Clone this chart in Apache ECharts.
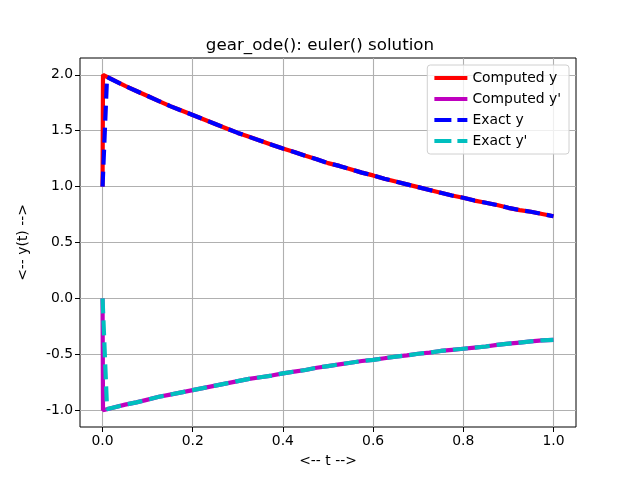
<!DOCTYPE html>
<html><head><meta charset="utf-8">
<script src="https://cdn.jsdelivr.net/npm/echarts@6/dist/echarts.min.js"></script>
<style>html,body{margin:0;padding:0;background:#fff}#c{width:640px;height:480px}</style>
</head><body><div id="c"></div>
<script>
// Exact solution samples
var tExact = [0, 0.01, 0.02, 0.05, 0.075, 0.1, 0.125, 0.15, 0.175, 0.2, 0.225, 0.25, 0.275, 0.3, 0.325, 0.35, 0.375, 0.4, 0.425, 0.45, 0.475, 0.5, 0.525, 0.55, 0.575, 0.6, 0.625, 0.65, 0.675, 0.7, 0.725, 0.75, 0.775, 0.8, 0.825, 0.85, 0.875, 0.9, 0.925, 0.95, 0.975, 1.0];
var yExact = [1.0, 1.98, 1.96, 1.90, 1.855, 1.81, 1.765, 1.72, 1.68, 1.64, 1.60, 1.56, 1.52, 1.48, 1.445, 1.41, 1.375, 1.34, 1.31, 1.275, 1.245, 1.21, 1.185, 1.155, 1.125, 1.10, 1.07, 1.045, 1.02, 0.995, 0.97, 0.945, 0.92, 0.90, 0.875, 0.855, 0.835, 0.81, 0.79, 0.775, 0.755, 0.735];
var ypExact = [0.0, -0.99, -0.98, -0.95, -0.93, -0.905, -0.88, -0.86, -0.84, -0.82, -0.80, -0.78, -0.76, -0.74, -0.72, -0.705, -0.69, -0.67, -0.655, -0.64, -0.62, -0.605, -0.59, -0.575, -0.56, -0.55, -0.535, -0.52, -0.51, -0.495, -0.485, -0.47, -0.46, -0.45, -0.44, -0.43, -0.415, -0.405, -0.395, -0.385, -0.375, -0.37];
// Computed (euler) samples
var tComp = [0, 0.001, 0.05, 0.075, 0.1, 0.125, 0.15, 0.175, 0.2, 0.225, 0.25, 0.275, 0.3, 0.325, 0.35, 0.375, 0.4, 0.425, 0.45, 0.475, 0.5, 0.525, 0.55, 0.575, 0.6, 0.625, 0.65, 0.675, 0.7, 0.725, 0.75, 0.775, 0.8, 0.825, 0.85, 0.875, 0.9, 0.925, 0.95, 0.975, 1.0];
var yComp = [1.0, 2.0, 1.90, 1.855, 1.81, 1.765, 1.72, 1.68, 1.64, 1.60, 1.56, 1.52, 1.48, 1.445, 1.41, 1.375, 1.34, 1.31, 1.275, 1.245, 1.21, 1.185, 1.155, 1.125, 1.10, 1.07, 1.045, 1.02, 0.995, 0.97, 0.945, 0.92, 0.90, 0.875, 0.855, 0.835, 0.81, 0.79, 0.775, 0.755, 0.735];
var ypComp = [0.0, -1.0, -0.95, -0.93, -0.905, -0.88, -0.86, -0.84, -0.82, -0.80, -0.78, -0.76, -0.74, -0.72, -0.705, -0.69, -0.67, -0.655, -0.64, -0.62, -0.605, -0.59, -0.575, -0.56, -0.55, -0.535, -0.52, -0.51, -0.495, -0.485, -0.47, -0.46, -0.45, -0.44, -0.43, -0.415, -0.405, -0.395, -0.385, -0.375, -0.37];
var xTicks = [0, 0.2, 0.4, 0.6, 0.8, 1.0];
var yTicks = [-1.0, -0.5, 0.0, 0.5, 1.0, 1.5, 2.0];

function pairs(t, v) { return t.map(function (x, i) { return [x, v[i]]; }); }

var font = 'DejaVu Sans';
var dash = [15, 7];
var chart = echarts.init(document.getElementById('c'), null, { renderer: 'canvas' });
chart.setOption({
  animation: false,
  backgroundColor: '#fff',
  textStyle: { fontFamily: font },
  title: {
    text: 'gear_ode(): euler() solution', left: 'center', top: 32,
    textStyle: { fontFamily: font, fontSize: 16.7, fontWeight: 'normal', color: '#000' }
  },
  grid: { left: 80, right: 64, top: 58, bottom: 53, show: true, borderColor: '#000', borderWidth: 1, backgroundColor: 'transparent' },
  legend: {
    right: 71, top: 65, orient: 'vertical', itemWidth: 33, itemHeight: 14, itemGap: 7,
    padding: [6, 8, 6, 5],
    backgroundColor: 'rgba(255,255,255,0.8)', borderColor: '#d0d0d0', borderWidth: 1, borderRadius: 3,
    textStyle: { fontFamily: font, fontSize: 13.9, color: '#000' },
    itemStyle: { opacity: 0 },
    lineStyle: { width: 4.2 },
    data: [
      { name: 'Computed y', lineStyle: { width: 4.2 } },
      { name: "Computed y'", lineStyle: { width: 4.2 } },
      { name: 'Exact y', lineStyle: { width: 4.2, type: [17, 6] } },
      { name: "Exact y'", lineStyle: { width: 4.2, type: [17, 6] } }
    ]
  },
  xAxis: {
    type: 'value', min: -0.05, max: 1.05,
    name: '<-- t -->', nameLocation: 'middle', nameGap: 27,
    nameTextStyle: { fontFamily: font, fontSize: 13.9, color: '#000' },
    axisLine: { show: false, onZero: false },
    axisTick: { show: true, length: 5, lineStyle: { color: '#000' }, customValues: xTicks },
    axisLabel: { color: '#000', fontFamily: font, fontSize: 13.9, margin: 7, customValues: xTicks, formatter: function (v) { return v.toFixed(1); } },
    splitLine: { show: true, lineStyle: { color: '#b0b0b0', width: 1.1 } }
  },
  yAxis: {
    type: 'value', min: -1.15, max: 2.15,
    name: '<-- y(t) -->', nameLocation: 'middle', nameGap: 50, nameRotate: 90,
    nameTextStyle: { fontFamily: font, fontSize: 13.9, color: '#000' },
    axisLine: { show: false, onZero: false },
    axisTick: { show: true, length: 5, lineStyle: { color: '#000' }, customValues: yTicks },
    axisLabel: { color: '#000', fontFamily: font, fontSize: 13.9, margin: 7, customValues: yTicks, formatter: function (v) { return v.toFixed(1); } },
    splitLine: { show: true, lineStyle: { color: '#b0b0b0', width: 1.1 } }
  },
  series: [
    { name: 'Computed y', type: 'line', data: pairs(tComp, yComp), symbol: 'none', lineStyle: { color: '#ff0000', width: 4.2 }, itemStyle: { color: '#ff0000' } },
    { name: "Computed y'", type: 'line', data: pairs(tComp, ypComp), symbol: 'none', lineStyle: { color: '#bf00bf', width: 4.2 }, itemStyle: { color: '#bf00bf' } },
    { name: 'Exact y', type: 'line', data: pairs(tExact, yExact), symbol: 'none', lineStyle: { color: '#0000ff', width: 4.2, type: dash }, itemStyle: { color: '#0000ff' } },
    { name: "Exact y'", type: 'line', data: pairs(tExact, ypExact), symbol: 'none', lineStyle: { color: '#00bfbf', width: 4.2, type: dash }, itemStyle: { color: '#00bfbf' } }
  ]
});
</script></body></html>
